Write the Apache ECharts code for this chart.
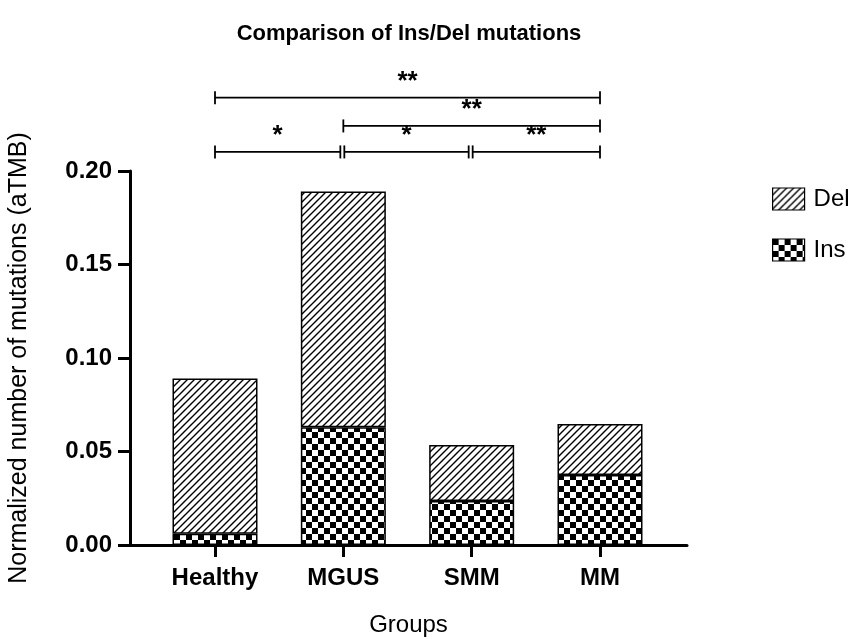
<!DOCTYPE html>
<html>
<head>
<meta charset="utf-8">
<script src="https://cdn.jsdelivr.net/npm/echarts@6/dist/echarts.min.js"></script>
<style>
  html, body { margin: 0; padding: 0; background: #fff; }
  #chart { width: 863px; height: 639px; }
</style>
</head>
<body>
<div id="chart"></div>
<script>
// Group names and stacked mutation burdens (aTMB)
const groups = ['Healthy', 'MGUS', 'SMM', 'MM'];
const insValues = [0.006, 0.063, 0.0235, 0.0375];
const delValues = [0.083, 0.126, 0.030, 0.0272];
const yTicks = [0, 0.05, 0.10, 0.15, 0.20];

// Significance brackets: [from group, to group, height, stars]
const brackets = [
  ['Healthy', 'MGUS', 0.2102, '*'],
  ['MGUS', 'SMM', 0.2102, '*'],
  ['SMM', 'MM', 0.2102, '**'],
  ['MGUS', 'MM', 0.2241, '**'],
  ['Healthy', 'MM', 0.2392, '**']
];

const FONT = '"Liberation Sans", Arial, sans-serif';

// Fill patterns: diagonal hatch for Del, checkerboard for Ins
function hatchPattern() {
  const c = document.createElement('canvas');
  const s = 7;
  c.width = s; c.height = s;
  const g = c.getContext('2d');
  g.fillStyle = '#fff'; g.fillRect(0, 0, s, s);
  g.strokeStyle = '#000'; g.lineWidth = 1.4;
  g.beginPath();
  g.moveTo(0, s); g.lineTo(s, 0);
  g.moveTo(-1, 1); g.lineTo(1, -1);
  g.moveTo(s - 1, s + 1); g.lineTo(s + 1, s - 1);
  g.stroke();
  return c;
}
function checkerPattern() {
  const c = document.createElement('canvas');
  const q = 6;
  c.width = q * 2; c.height = q * 2;
  const g = c.getContext('2d');
  g.fillStyle = '#fff'; g.fillRect(0, 0, q * 2, q * 2);
  g.fillStyle = '#000';
  g.fillRect(0, 0, q, q);
  g.fillRect(q, q, q, q);
  return c;
}
const delFill = { image: hatchPattern(), repeat: 'repeat' };
const insFill = { image: checkerPattern(), repeat: 'repeat' };

const chart = echarts.init(document.getElementById('chart'), null, { renderer: 'canvas' });

const idx = groups.map((_, i) => i);

// Grid 0 carries the visible frame (axes, ticks, labels);
// grid 1 carries the stacked category bars and the brackets.
const option = {
  animation: false,
  backgroundColor: '#fff',
  title: {
    text: 'Comparison of Ins/Del mutations',
    left: 404,
    top: 18,
    textAlign: 'center',
    textStyle: { fontFamily: FONT, fontWeight: 'bold', fontSize: 22, color: '#000' }
  },
  legend: {
    orient: 'vertical',
    left: 767,
    top: 182,
    itemWidth: 32,
    itemHeight: 22,
    itemGap: 27,
    icon: 'rect',
    data: ['Del', 'Ins'],
    itemStyle: { borderColor: '#000', borderWidth: 1.2 },
    textStyle: { fontFamily: FONT, fontSize: 24, color: '#000', padding: [0, 0, 0, 4] }
  },
  grid: [
    { left: 130, right: 176, top: 171, bottom: 94, outerBoundsMode: 'none', containLabel: false },
    { left: 150.83, right: 198.83, top: 171, bottom: 94, outerBoundsMode: 'none', containLabel: false }
  ],
  xAxis: [
    {
      type: 'value',
      gridIndex: 0,
      min: -0.662,
      max: 3.678,
      name: 'Groups',
      nameLocation: 'middle',
      nameGap: 68,
      nameTextStyle: { fontFamily: FONT, fontSize: 24, color: '#000' },
      axisLine: { lineStyle: { color: '#000', width: 3 } },
      axisTick: { show: true, length: 12, lineStyle: { color: '#000', width: 3 }, customValues: idx },
      axisLabel: {
        customValues: idx,
        formatter: v => groups[Math.round(v)],
        fontFamily: FONT, fontWeight: 'bold', fontSize: 24, color: '#000', margin: 21
      },
      splitLine: { show: false }
    },
    {
      type: 'category',
      gridIndex: 1,
      data: groups,
      show: false
    }
  ],
  yAxis: [
    {
      type: 'value',
      gridIndex: 0,
      min: 0,
      max: 0.2,
      interval: 0.05,
      name: 'Normalized number of mutations (aTMB)',
      nameLocation: 'middle',
      nameGap: 98,
      nameRotate: 90,
      nameTextStyle: { fontFamily: FONT, fontSize: 25, color: '#000' },
      axisLine: { show: true, onZero: false, lineStyle: { color: '#000', width: 3 } },
      axisTick: { show: true, length: 12, lineStyle: { color: '#000', width: 3 } },
      axisLabel: {
        customValues: yTicks,
        formatter: v => v.toFixed(2),
        fontFamily: FONT, fontWeight: 'bold', fontSize: 24, color: '#000', margin: 18
      },
      splitLine: { show: false }
    },
    {
      type: 'value',
      gridIndex: 1,
      min: 0,
      max: 0.2,
      show: false
    }
  ],
  series: [
    {
      name: 'Ins',
      type: 'bar',
      xAxisIndex: 1,
      yAxisIndex: 1,
      stack: 'total',
      barWidth: 85,
      data: insValues,
      itemStyle: { color: insFill, borderColor: '#000', borderWidth: 1.5 }
    },
    {
      name: 'Del',
      type: 'bar',
      xAxisIndex: 1,
      yAxisIndex: 1,
      stack: 'total',
      barWidth: 85,
      data: delValues,
      itemStyle: { color: delFill, borderColor: '#000', borderWidth: 1.5 }
    },
    {
      name: 'brackets',
      type: 'custom',
      xAxisIndex: 1,
      yAxisIndex: 1,
      clip: false,
      silent: true,
      encode: { x: [0, 1], y: 2 },
      data: brackets.map(b => [groups.indexOf(b[0]), groups.indexOf(b[1]), b[2]]),
      renderItem: function (params, api) {
        const a = api.value(0), b = api.value(1), h = api.value(2);
        const stars = brackets[params.dataIndex][3];
        const p1 = api.coord([a, h]);
        const p2 = api.coord([b, h]);
        // leave a small gap where two brackets of the same row meet
        const row = brackets.filter(d => d[2] === h)
          .map(d => [groups.indexOf(d[0]), groups.indexOf(d[1])]);
        const startShared = row.some(d => d[1] === a);
        const endShared = row.some(d => d[0] === b);
        const x1 = p1[0] + (startShared ? 1 : 0);
        const x2 = p2[0] - (endShared ? 3 : 0);
        const y = p1[1];
        const st = { stroke: '#000', lineWidth: 1.8 };
        return {
          type: 'group',
          children: [
            { type: 'line', shape: { x1: x1, y1: y, x2: x2, y2: y }, style: st },
            { type: 'line', shape: { x1: x1, y1: y - 6.5, x2: x1, y2: y + 6.5 }, style: st },
            { type: 'line', shape: { x1: x2, y1: y - 6.5, x2: x2, y2: y + 6.5 }, style: st },
            {
              type: 'text',
              x: (x1 + x2) / 2,
              y: y - 16,
              style: {
                text: stars, fill: '#000', align: 'center', verticalAlign: 'middle',
                font: 'bold 26px ' + FONT
              }
            }
          ]
        };
      }
    }
  ]
};

chart.setOption(option);
</script>
</body>
</html>
